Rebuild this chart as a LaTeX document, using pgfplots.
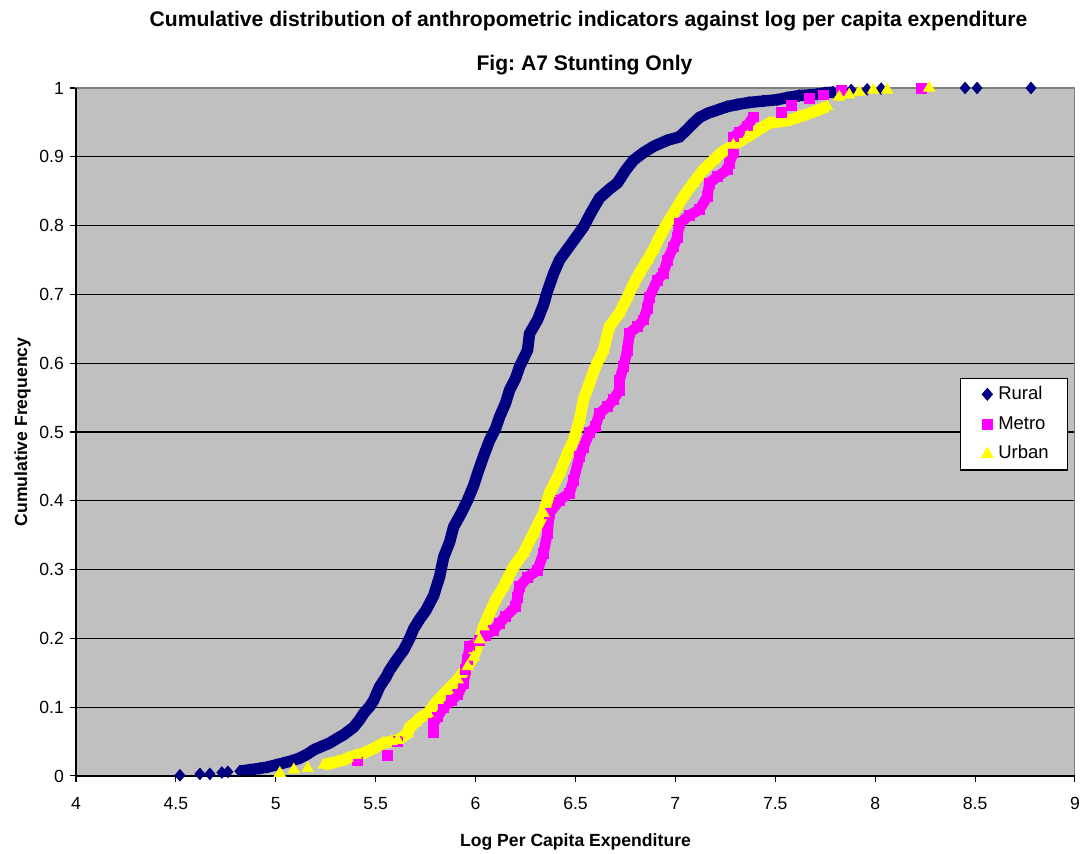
\documentclass[border=0pt]{standalone}
\usepackage{fontspec}
\setmainfont{Liberation Sans}
\usepackage{pgfplots}
\usepackage{pgfplotstable}
\pgfplotsset{compat=1.18}
\definecolor{bgray}{HTML}{C0C0C0}
\definecolor{navy}{HTML}{000080}
\definecolor{mag}{HTML}{FF00FF}
\definecolor{yel}{HTML}{FFFF00}
\frenchspacing

\pgfplotstableread{
x y
4.52 0.001
4.62 0.003
4.67 0.003
4.73 0.005
4.76 0.006
4.82 0.007
4.87 0.009
4.92 0.011
4.96 0.013
5.00 0.016
5.04 0.019
5.08 0.022
5.12 0.026
5.16 0.032
5.19 0.038
5.23 0.043
5.27 0.048
5.31 0.055
5.34 0.060
5.39 0.071
5.42 0.082
5.44 0.091
5.47 0.101
5.49 0.110
5.52 0.130
5.55 0.143
5.57 0.154
5.60 0.167
5.64 0.183
5.67 0.200
5.69 0.214
5.72 0.228
5.75 0.240
5.79 0.262
5.82 0.290
5.84 0.318
5.87 0.340
5.89 0.362
5.93 0.383
5.96 0.401
5.99 0.422
6.01 0.440
6.04 0.465
6.07 0.488
6.10 0.505
6.12 0.522
6.15 0.542
6.17 0.561
6.20 0.578
6.22 0.595
6.26 0.619
6.27 0.643
6.31 0.663
6.34 0.685
6.36 0.705
6.39 0.730
6.42 0.750
6.48 0.774
6.54 0.798
6.58 0.820
6.62 0.840
6.67 0.853
6.71 0.862
6.75 0.880
6.79 0.895
6.84 0.906
6.89 0.915
6.96 0.924
7.02 0.929
7.06 0.940
7.09 0.949
7.12 0.957
7.16 0.963
7.21 0.968
7.26 0.973
7.31 0.976
7.37 0.979
7.44 0.981
7.51 0.983
7.56 0.986
7.62 0.989
7.67 0.990
7.71 0.991
7.75 0.993
7.79 0.994
7.88 0.997
7.96 0.998
8.03 0.999
8.45 1.000
8.51 1.000
8.78 1.000
}\rural

\pgfplotstableread{
x y
5.41 0.022
5.56 0.030
5.61 0.050
5.79 0.064
5.79 0.076
5.81 0.086
5.84 0.100
5.88 0.110
5.91 0.118
5.94 0.135
5.95 0.155
5.96 0.170
5.97 0.188
6.02 0.197
6.05 0.205
6.09 0.212
6.12 0.222
6.15 0.232
6.20 0.246
6.21 0.260
6.22 0.275
6.26 0.289
6.31 0.299
6.34 0.324
6.36 0.353
6.37 0.382
6.42 0.401
6.47 0.411
6.49 0.430
6.52 0.464
6.54 0.478
6.57 0.499
6.60 0.508
6.62 0.527
6.66 0.537
6.69 0.547
6.72 0.561
6.72 0.575
6.74 0.595
6.76 0.619
6.77 0.644
6.81 0.653
6.84 0.663
6.86 0.680
6.87 0.696
6.91 0.721
6.94 0.731
6.96 0.750
6.99 0.769
7.01 0.783
7.02 0.803
7.07 0.815
7.12 0.823
7.16 0.842
7.17 0.862
7.21 0.871
7.26 0.881
7.27 0.891
7.29 0.906
7.29 0.929
7.32 0.935
7.36 0.945
7.39 0.958
7.53 0.965
7.58 0.975
7.67 0.985
7.74 0.990
7.83 0.997
8.23 1.000
}\metro

\pgfplotstableread{
x y
5.02 0.004
5.09 0.009
5.16 0.011
5.24 0.016
5.27 0.018
5.31 0.021
5.34 0.023
5.36 0.026
5.40 0.030
5.44 0.033
5.49 0.040
5.54 0.048
5.58 0.050
5.61 0.052
5.66 0.062
5.67 0.071
5.70 0.078
5.72 0.084
5.76 0.091
5.81 0.110
5.86 0.125
5.91 0.140
5.96 0.159
5.99 0.173
6.02 0.198
6.04 0.217
6.07 0.237
6.10 0.256
6.14 0.275
6.19 0.304
6.24 0.324
6.29 0.353
6.34 0.382
6.37 0.411
6.42 0.440
6.46 0.469
6.49 0.488
6.52 0.517
6.54 0.547
6.57 0.571
6.60 0.595
6.64 0.619
6.67 0.653
6.72 0.673
6.76 0.696
6.79 0.715
6.82 0.731
6.86 0.750
6.89 0.765
6.94 0.794
6.99 0.818
7.04 0.842
7.09 0.862
7.14 0.881
7.19 0.895
7.23 0.906
7.29 0.917
7.36 0.929
7.42 0.940
7.47 0.949
7.57 0.953
7.62 0.958
7.69 0.965
7.76 0.973
7.82 0.987
7.87 0.990
7.92 0.994
7.99 0.997
8.06 0.997
8.27 1.000
}\urban

\begin{document}
\begin{tikzpicture}
\begin{axis}[
  scale only axis,
  width=567.6pt, height=390.9pt,
  xmin=4, xmax=9, ymin=0, ymax=1,
  xtick={4,4.5,...,9},
  ytick={0,0.1,...,1},
  xtick pos=lower, ytick pos=left,
  tick align=outside,
  major tick length=3.4pt,
  tick style={black, line width=0.6pt},
  ymajorgrids,
  major grid style={black, line width=0.6pt},
  axis background/.style={fill=bgray},
  axis line style={draw=gray, line width=0.6pt},
  clip=false,
  /pgf/number format/assume math mode=true,
  ticklabel style={font=\fontsize{10}{12}\selectfont},
  xticklabel style={yshift=-5pt},
  legend style={at={(rel axis cs:0.885,0.5785)}, anchor=north west,
    draw=black, fill=white, line width=0.6pt,
    font=\fontsize{10.5}{12}\selectfont, row sep=0pt,
    inner xsep=7.5pt, inner ysep=0.5pt,
    nodes={text height=8pt, text depth=2.6pt, inner ysep=3.2pt, inner xsep=3pt}},
  legend cell align=left,
  legend image code/.code={\path (-0.26cm,0cm); \draw[#1] plot coordinates {(0cm,0cm)};},
]
\coordinate (ll) at (rel axis cs:0,0);
\coordinate (ur) at (rel axis cs:1,1);
\coordinate (tc) at (rel axis cs:0.5,1);
\coordinate (bc) at (rel axis cs:0.5,0);
\coordinate (lc) at (rel axis cs:0,0.5);

\addplot[navy, line width=6.5pt, forget plot, restrict x to domain=4.8:7.8] table[x=x,y=y] {\rural};
\addplot[only marks, mark=diamond*, mark size=3.3pt, mark options={xscale=1.15}, color=navy] table[x=x,y=y] {\rural};
\addlegendentry{Rural}

\addplot[mag, line width=6pt, forget plot, restrict x to domain=5.78:7.4] table[x=x,y=y] {\metro};
\addplot[only marks, mark=square*, mark size=2.8pt, color=mag] table[x=x,y=y] {\metro};
\addlegendentry{Metro}

\addplot[yel, line width=6.5pt, forget plot, restrict x to domain=5.22:7.8] table[x=x,y=y] {\urban};
\addplot[only marks, mark=triangle*, mark size=3.7pt, color=yel] table[x=x,y=y] {\urban};
\addlegendentry{Urban}

\draw[black, line width=0.7pt] (rel axis cs:0,1) -- (rel axis cs:0,0) -- (rel axis cs:1,0);
\end{axis}

\node[anchor=base, font=\fontsize{12}{14}\selectfont\bfseries] at ([shift={(7.4pt,34.7pt)}]tc) {Cumulative distribution of anthropometric indicators against log per capita expenditure};
\node[anchor=base, font=\fontsize{12}{14}\selectfont\bfseries] at ([shift={(5.1pt,9.7pt)}]tc) {Fig: A7 Stunting Only};
\node[anchor=base, font=\fontsize{10}{12}\selectfont\bfseries] at ([shift={(0pt,-40.3pt)}]bc) {Log Per Capita Expenditure};
\node[anchor=base, rotate=90, font=\fontsize{10}{12}\selectfont\bfseries] at ([shift={(-27.8pt,0pt)}]lc) {Cumulative Frequency};

\pgfresetboundingbox
\path ([shift={(-43.2pt,-44.3pt)}]ll) rectangle ([shift={(4.0pt,50pt)}]ur);
\end{tikzpicture}
\end{document}
